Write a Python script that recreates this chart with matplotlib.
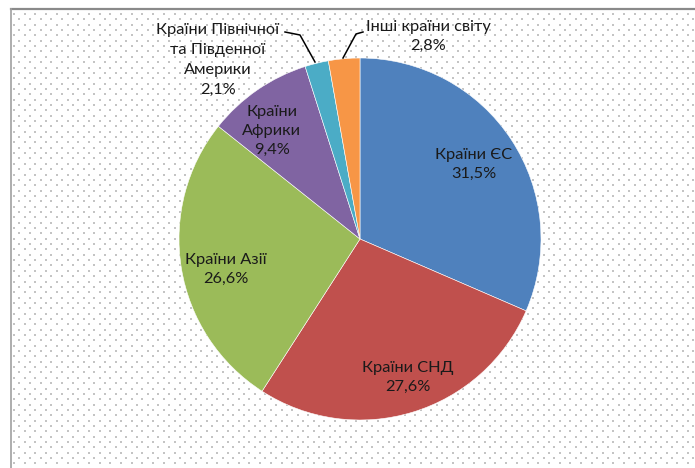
import numpy as np
import matplotlib
matplotlib.use("Agg")
import matplotlib.pyplot as plt

plt.rcParams['font.family'] = ['Lato', 'DejaVu Sans']

# Структура (частки у %)
regions = ["Країни ЄС", "Країни СНД", "Країни Азії", "Країни\nАфрики",
           "Країни Північної\nта Південної\nАмерики", "Інші країни світу"]
shares = [31.5, 27.6, 26.6, 9.4, 2.1, 2.8]
share_labels = ["31,5%", "27,6%", "26,6%", "9,4%", "2,1%", "2,8%"]
colors = ["#4F81BD", "#C0504D", "#9BBB59", "#8064A2", "#4BACC6", "#F79646"]

W, H = 695, 468
fig = plt.figure(figsize=(W / 100, H / 100), dpi=100)

# фон: точкова сітка та рамка
bg = fig.add_axes([0, 0, 1, 1])
bg.set_xlim(0, W)
bg.set_ylim(H, 0)
bg.axis("off")
step = 10.7
ys = np.arange(14, H, step / 2)
for i, yy in enumerate(ys):
    xs = np.arange(14 + (step / 2 if i % 2 else 0), W, step)
    bg.scatter(xs, np.full_like(xs, yy), s=1.2, marker="s", color="#c4c4c4", linewidths=0)
bg.plot([11, W], [9, 9], color="#8a8a8a", lw=1.6)
bg.plot([11, 11], [9, H], color="#a0a0a0", lw=1.2)

# кругова діаграма
cx, cy, r = 360, 239, 181
ax = fig.add_axes([(cx - r) / W, (H - cy - r) / H, 2 * r / W, 2 * r / H])
wedges, _ = ax.pie(shares, colors=colors, startangle=90, counterclock=False,
                   radius=1, wedgeprops=dict(edgecolor="white", linewidth=0.4))
ax.set_xlim(-1, 1)
ax.set_ylim(-1, 1)
ax.axis("off")

fs = 11.8
inner_r = [0.75, 0.81, 0.76, 0.77]
ang_shift = [0, 2.2, 3.6, 4.8]
for i in range(4):
    w = wedges[i]
    ang = np.deg2rad((w.theta1 + w.theta2) / 2 + ang_shift[i])
    ax.text(inner_r[i] * np.cos(ang), inner_r[i] * np.sin(ang),
            regions[i] + "\n" + share_labels[i], ha="center", va="center",
            fontsize=fs, color="#1a1a1a", linespacing=1.45)

# підписи зовні з виносками
def px(x, y):
    return ((x - cx) / r, (cy - y) / r)

ax.text(*px(218, 60), regions[4] + "\n" + share_labels[4], ha="center", va="center",
        fontsize=fs, color="#1a1a1a", linespacing=1.55, clip_on=False)
ax.text(*px(428, 36), regions[5] + "\n" + share_labels[5], ha="center", va="center",
        fontsize=fs, color="#1a1a1a", linespacing=1.45, clip_on=False)

for pts in ([(285, 32), (300, 35), (315, 62)], [(363, 32), (356, 34), (343, 58)]):
    xy = np.array([px(*p) for p in pts])
    ax.plot(xy[:, 0], xy[:, 1], color="black", lw=1.1, clip_on=False)

plt.savefig("out.png", dpi=100)
plt.close()
